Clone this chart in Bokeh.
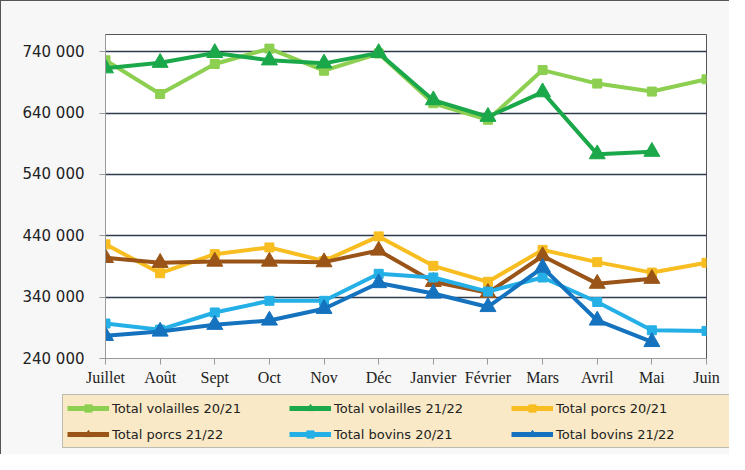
from bokeh.plotting import figure
from bokeh.layouts import column
from bokeh.models import Range1d, FixedTicker, Legend, LegendItem
from bokeh.embed import file_html
from bokeh.resources import INLINE

months = ["Juillet", "Août", "Sept", "Oct", "Nov", "Déc", "Janvier", "Février", "Mars", "Avril", "Mai", "Juin"]

volailles_2021 = [726000, 671000, 720000, 745000, 709000, 737000, 656000, 629000, 710000, 688000, 675000, 695000]
volailles_2122 = [713000, 722000, 738000, 726000, 721000, 738000, 661000, 634000, 674000, 573000, 577000]
porcs_2021 = [426000, 379000, 410000, 421000, 399000, 439000, 391000, 365000, 417000, 397000, 380000, 396000]
porcs_2122 = [404000, 396000, 398000, 398000, 397000, 416000, 365000, 347000, 407000, 362000, 370000]
bovins_2021 = [297000, 287000, 315000, 334000, 334000, 378000, 372000, 349000, 372000, 332000, 286000, 285000]
bovins_2122 = [277000, 284000, 295000, 302000, 321000, 363000, 346000, 324000, 388000, 302000, 267000]

y_ticks = [240000, 340000, 440000, 540000, 640000, 740000]
y_tick_labels = ["240 000", "340 000", "440 000", "540 000", "640 000", "740 000"]

series = [
    ("Total volailles 20/21", volailles_2021, "#8DCF50", "square"),
    ("Total volailles 21/22", volailles_2122, "#1BA84A", "triangle"),
    ("Total porcs 20/21", porcs_2021, "#F7BD21", "square"),
    ("Total porcs 21/22", porcs_2122, "#9A5418", "triangle"),
    ("Total bovins 20/21", bovins_2021, "#24B0E6", "square"),
    ("Total bovins 21/22", bovins_2122, "#1572BE", "triangle"),
]

BG = "#F7F7F7"

p = figure(width=728, height=391, output_backend="svg", toolbar_location=None,
           x_range=Range1d(0, len(months) - 1), y_range=Range1d(240000, 768000),
           min_border_left=104, min_border_right=23, min_border_top=33, min_border_bottom=34)
p.frame_align = False
p.border_fill_color = BG
p.background_fill_color = "white"
p.outline_line_color = "#555555"
p.outline_line_width = 1

p.xgrid.visible = False
p.ygrid.ticker = FixedTicker(ticks=y_ticks)
p.ygrid.grid_line_color = "#2E3B4A"
p.ygrid.grid_line_width = 1.3

p.yaxis.ticker = FixedTicker(ticks=y_ticks)
p.yaxis.major_label_overrides = {t: l for t, l in zip(y_ticks, y_tick_labels)}
p.yaxis.major_label_text_font = "DejaVu Sans"
p.yaxis.major_label_text_font_size = "15px"
p.yaxis.major_label_text_color = "#222222"
p.yaxis.major_label_standoff = 15
p.yaxis.major_tick_out = 6
p.yaxis.major_tick_in = 0
p.yaxis.minor_tick_line_color = None
p.yaxis.axis_line_color = "#999999"
p.yaxis.major_tick_line_color = "#999999"

xt = list(range(len(months)))
p.xaxis.ticker = FixedTicker(ticks=xt)
p.xaxis.major_label_overrides = {i: m for i, m in zip(xt, months)}
p.xaxis.major_label_text_font = "Liberation Serif"
p.xaxis.major_label_text_font_size = "16px"
p.xaxis.major_label_text_color = "#222222"
p.xaxis.major_label_standoff = 4
p.xaxis.major_tick_out = 6
p.xaxis.major_tick_in = 0
p.xaxis.minor_tick_line_color = None
p.xaxis.axis_line_color = "#999999"
p.xaxis.major_tick_line_color = "#999999"

# legend figure placed below the chart (its ranges keep the series data out of view)
pl = figure(width=728, height=62, output_backend="svg", toolbar_location=None,
            x_range=Range1d(100, 101), y_range=Range1d(0, 1),
            x_axis_type=None, y_axis_type=None,
            min_border_left=0, min_border_right=0, min_border_top=0, min_border_bottom=0)
pl.frame_align = False
pl.border_fill_color = BG
pl.background_fill_color = BG
pl.outline_line_color = None
pl.grid.visible = False

items = []
for name, vals, color, marker in series:
    xs = list(range(len(vals)))
    p.line(xs, vals, line_color=color, line_width=4)
    if marker == "square":
        p.scatter(xs, vals, marker="square", size=9, fill_color=color, line_color=color)
    else:
        p.scatter(xs, vals, marker="triangle", size=16, fill_color=color, line_color=color)
    lr = pl.line(xs, vals, line_color=color, line_width=5)
    mr = pl.scatter(xs, vals, marker=marker, size=6, fill_color=color, line_color=color)
    items.append(LegendItem(label=name, renderers=[lr, mr]))

legend = Legend(items=items, location=(61, 6), orientation="horizontal", ncols=3,
                glyph_width=42, glyph_height=18, label_height=18, label_width=169,
                label_standoff=3, spacing=8, padding=4, margin=0,
                background_fill_color="#F9E9C6", background_fill_alpha=1,
                border_line_color="#7F8FA0", border_line_width=1,
                label_text_font="DejaVu Sans", label_text_font_size="13px",
                label_text_color="#222222")
pl.add_layout(legend, "center")

layout = column(p, pl, spacing=0,
                styles={"background-color": BG, "border-left": "1px solid #555555",
                        "border-top": "1px solid #555555"})
open("out.html", "w").write(file_html(layout, INLINE))
